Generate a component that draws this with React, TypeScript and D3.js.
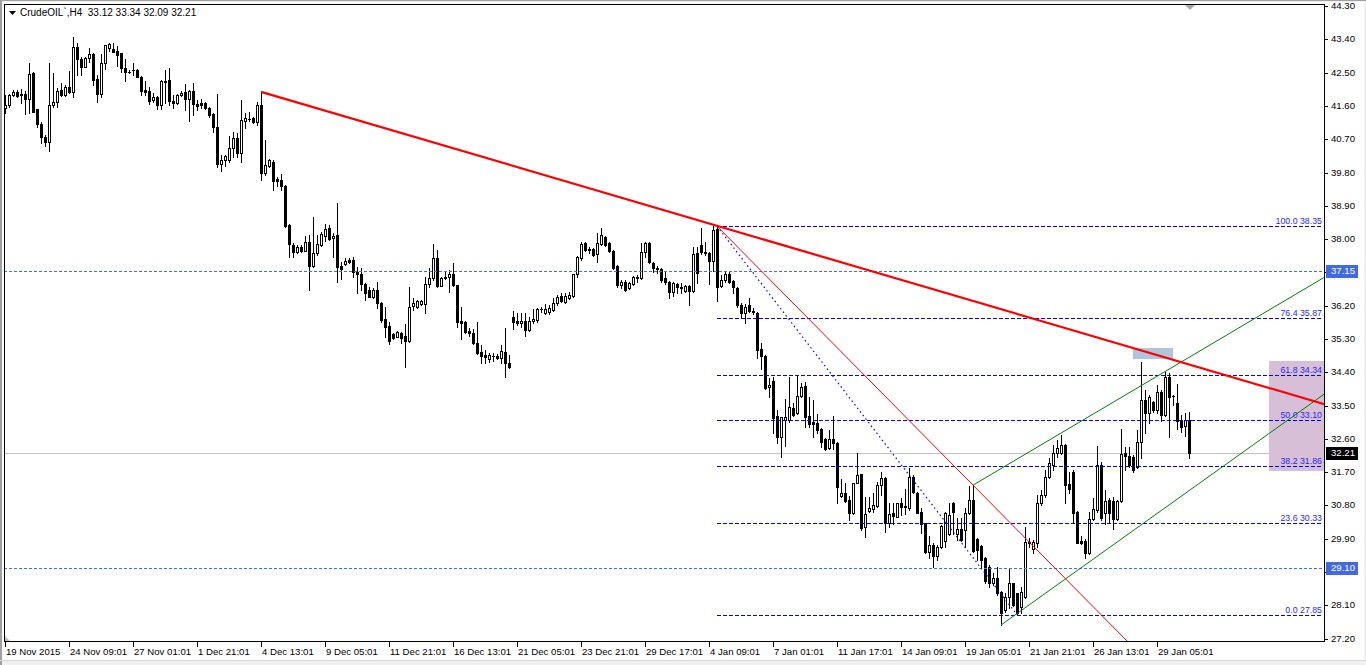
import React from "react";
import * as d3 from "d3";

// [open, high, low, close] per H4 bar
const candles: number[][] = [
  [41.54,41.89,41.40,41.62],[41.62,41.92,41.57,41.89],[41.89,42.03,41.87,41.98],[41.98,42.03,41.84,41.87],
  [41.92,42.06,41.68,41.89],[41.92,42.00,41.38,41.78],[41.78,42.77,41.42,42.46],[42.49,42.52,41.43,41.44],
  [41.52,41.52,41.03,41.11],[41.11,41.17,40.60,40.76],[40.77,40.81,40.52,40.62],[40.62,42.77,40.39,41.62],
  [41.62,42.49,41.58,41.71],[41.71,42.08,41.58,42.00],[42.03,42.22,41.87,41.89],[41.89,42.16,41.87,42.12],
  [42.12,42.55,41.96,41.98],[41.98,43.47,41.85,43.18],[43.20,43.31,42.43,42.86],[42.87,42.92,42.43,42.65],
  [42.66,42.92,42.64,42.89],[42.89,43.16,42.79,43.00],[43.00,43.02,42.16,42.30],[42.32,42.43,41.71,41.92],
  [41.92,43.00,41.85,42.75],[42.75,43.25,42.59,43.25],[43.17,43.30,43.09,43.27],[43.13,43.29,43.05,43.06],
  [43.08,43.22,42.68,42.98],[43.02,43.02,42.52,42.62],[42.62,42.86,42.28,42.52],[42.52,42.57,42.50,42.51],
  [42.57,42.75,42.43,42.58],[42.57,42.59,42.37,42.39],[42.39,42.41,41.89,42.00],[42.03,42.28,41.89,41.98],
  [42.00,42.12,41.65,41.74],[41.76,41.94,41.71,41.83],[41.85,41.87,41.51,41.62],[41.62,42.30,41.51,42.28],
  [42.25,42.57,41.67,42.28],[42.30,42.62,41.62,41.74],[41.74,41.89,41.54,41.69],[41.67,41.92,41.66,41.89],
  [41.89,42.01,41.87,41.96],[41.98,42.19,41.49,41.78],[41.78,42.03,41.20,42.00],[42.00,42.21,41.35,41.65],
  [41.65,41.76,41.49,41.60],[41.67,41.79,41.54,41.63],[41.69,41.71,41.51,41.54],[41.54,41.56,41.31,41.35],
  [41.38,41.40,40.90,41.04],[41.02,41.92,39.96,40.03],[40.03,40.27,39.85,40.14],[40.14,40.27,39.97,40.25],
  [40.14,40.79,40.09,40.45],[40.45,40.90,40.21,40.72],[40.72,40.86,40.23,40.32],[40.32,41.76,40.09,41.22],
  [41.20,41.40,41.00,41.26],[41.25,41.43,41.20,41.24],[41.26,41.31,41.15,41.17],[41.17,41.71,41.08,41.62],
  [41.62,41.98,39.60,39.78],[39.78,40.68,39.73,40.00],[39.98,40.16,39.96,40.14],[40.09,40.14,39.33,39.58],
  [39.62,39.69,39.43,39.58],[39.60,39.75,39.33,39.43],[39.43,39.45,38.33,38.35],[38.38,38.40,37.51,37.86],
  [37.84,37.90,37.51,37.66],[37.66,37.84,37.63,37.78],[37.79,37.84,37.65,37.69],[37.69,38.09,37.68,37.91],
  [37.91,38.11,36.62,37.28],[37.28,38.60,37.25,37.62],[37.62,38.11,37.57,37.86],[37.84,38.20,37.81,38.14],
  [38.09,38.41,37.96,38.27],[38.29,38.38,37.98,38.00],[38.02,38.16,37.52,38.08],[38.11,38.97,36.85,37.25],
  [37.27,37.39,36.93,37.18],[37.32,37.50,37.30,37.41],[37.44,37.48,37.36,37.39],[37.44,37.52,36.98,37.10],
  [37.12,37.24,36.53,37.05],[37.06,37.21,36.62,36.78],[36.79,36.81,36.35,36.55],[36.62,36.70,36.43,36.44],
  [36.43,36.67,36.40,36.62],[36.62,36.85,36.13,36.26],[36.28,36.29,35.77,35.81],[35.83,36.17,35.36,35.63],
  [35.65,35.77,35.17,35.25],[35.44,35.46,35.29,35.32],[35.36,35.52,35.35,35.50],[35.47,35.50,35.18,35.32],
  [35.38,35.70,34.54,35.25],[35.25,36.70,35.23,36.17],[36.19,36.40,36.08,36.28],[36.17,36.35,36.13,36.33],
  [36.24,36.35,36.22,36.33],[36.24,36.98,36.01,36.80],[36.80,37.21,36.71,36.94],[36.94,37.87,36.89,37.48],
  [37.48,37.71,36.70,36.73],[36.73,36.98,36.72,36.94],[36.97,37.15,36.91,36.94],[36.97,37.17,36.56,37.06],
  [37.06,37.35,36.73,36.76],[36.76,36.77,35.62,35.77],[35.79,36.17,35.29,35.72],[35.77,35.79,35.46,35.50],
  [35.52,35.59,35.38,35.46],[35.47,35.56,35.17,35.20],[35.20,35.77,34.89,34.93],[34.96,35.14,34.64,34.84],
  [34.87,35.00,34.66,34.82],[34.75,34.93,34.69,34.86],[34.84,34.93,34.71,34.83],[34.84,34.89,34.75,34.80],
  [34.78,35.14,34.66,34.98],[34.96,35.59,34.28,34.66],[34.64,34.87,34.51,34.55],[35.90,36.06,35.56,35.77],
  [35.79,36.00,35.68,35.72],[35.74,36.01,35.63,35.79],[35.79,36.00,35.38,35.54],[35.54,35.90,35.52,35.79],
  [35.79,36.10,35.74,35.83],[35.81,36.13,35.77,36.10],[36.10,36.17,36.04,36.11],[36.01,36.24,35.97,36.10],
  [36.03,36.22,35.98,36.14],[36.08,36.40,36.07,36.26],[36.26,36.49,36.22,36.43],[36.46,36.53,36.31,36.33],
  [36.31,36.53,36.28,36.46],[36.40,36.58,36.37,36.49],[36.46,37.07,36.44,37.06],[37.06,37.54,36.98,37.51],
  [37.48,37.93,37.44,37.87],[37.89,37.91,37.69,37.71],[37.72,37.78,37.63,37.71],[37.73,37.75,37.54,37.57],
  [37.59,38.16,37.39,37.89],[37.87,38.29,37.84,38.11],[38.06,38.08,37.81,37.84],[37.89,37.91,37.66,37.69],
  [37.69,37.71,37.18,37.21],[37.27,37.30,36.71,36.76],[36.76,36.89,36.67,36.85],[36.85,36.89,36.61,36.62],
  [36.67,36.85,36.64,36.82],[36.79,36.99,36.76,36.97],[36.94,37.03,36.85,36.98],[36.94,37.90,36.91,37.66],
  [37.66,37.93,37.52,37.89],[37.89,37.93,37.36,37.39],[37.35,37.39,37.12,37.21],[37.22,37.27,37.09,37.19],
  [37.18,37.21,36.85,36.89],[36.94,37.12,36.79,36.85],[36.85,36.87,36.40,36.58],[36.58,36.85,36.46,36.82],
  [36.79,36.82,36.55,36.71],[36.70,36.82,36.55,36.69],[36.61,36.76,36.58,36.73],[36.73,36.76,36.22,36.61],
  [36.61,37.78,36.58,37.60],[37.62,37.78,36.82,37.09],[37.84,38.29,37.60,37.66],[37.62,37.93,37.56,37.66],
  [37.63,37.66,36.80,37.42],[37.42,38.35,37.15,38.25],[38.27,38.35,36.33,36.71],[36.73,37.03,36.70,36.89],
  [36.89,37.12,36.85,37.06],[37.06,37.12,36.81,36.85],[36.87,36.89,36.55,36.70],[36.67,36.70,36.16,36.22],
  [36.22,36.27,35.90,36.01],[36.01,36.24,35.74,36.17],[36.22,36.40,36.04,36.06],[36.06,36.13,35.98,36.02],
  [36.01,36.04,34.80,35.00],[35.02,35.18,34.48,34.85],[34.84,34.87,33.94,33.97],[33.99,34.24,33.74,34.06],
  [34.17,34.26,32.75,33.17],[33.22,33.38,32.48,32.66],[32.66,33.20,32.10,33.18],[33.11,33.67,32.41,33.18],
  [33.11,34.28,33.06,33.45],[33.43,33.56,33.22,33.25],[33.29,34.30,33.27,33.76],[33.76,34.10,33.74,33.99],
  [34.03,34.15,32.93,33.18],[33.22,33.74,32.93,33.00],[33.06,33.65,32.66,33.00],[33.04,33.27,32.77,32.84],
  [32.86,32.89,32.37,32.52],[32.59,32.62,32.30,32.32],[32.35,32.84,32.32,32.59],[32.59,33.22,32.32,32.48],
  [32.50,32.51,30.88,31.31],[31.06,31.51,31.02,31.15],[31.13,31.40,30.90,30.93],[30.95,31.06,30.41,30.61],
  [30.59,31.42,30.57,31.40],[31.42,32.21,31.40,31.62],[31.65,31.66,30.14,30.18],[30.21,31.04,29.94,30.57],
  [30.66,31.04,30.63,30.72],[30.70,31.13,30.63,30.81],[30.79,31.44,30.75,31.35],[31.35,31.71,31.08,31.53],
  [31.53,31.56,30.09,30.33],[30.33,30.86,30.21,30.57],[30.61,30.86,30.30,30.52],[30.50,30.88,30.48,30.86],
  [30.88,31.00,30.54,30.77],[30.77,31.24,30.57,30.78],[30.73,31.80,30.68,31.57],[31.57,31.62,31.13,31.17],
  [31.15,31.16,30.59,30.61],[30.63,30.72,30.06,30.30],[30.32,30.33,29.52,29.55],[29.55,29.97,29.37,29.73],
  [29.73,29.78,29.13,29.43],[29.43,29.73,29.33,29.67],[29.67,30.27,29.64,30.24],[29.85,30.63,29.69,30.59],
  [30.03,30.88,30.00,30.54],[30.88,30.90,30.03,30.63],[30.03,30.45,29.87,30.16],[30.16,30.45,29.85,29.87],
  [30.14,30.72,29.67,30.59],[30.61,31.33,30.57,30.95],[30.95,31.35,29.55,29.58],[29.89,29.91,29.33,29.60],
  [29.70,29.73,29.13,29.33],[29.37,29.41,28.70,28.77],[29.15,29.19,28.61,28.70],[28.70,28.98,28.65,28.83],
  [28.83,29.13,28.38,28.43],[28.47,28.48,27.57,27.89],[27.98,28.43,27.93,28.34],[28.34,29.10,28.02,28.71],
  [28.70,28.71,28.08,28.11],[28.43,28.44,27.87,27.89],[28.06,28.61,27.90,28.47],[28.34,30.23,28.29,29.82],
  [29.78,29.91,29.69,29.82],[29.62,29.87,29.52,29.82],[29.78,31.08,29.69,30.86],[30.86,31.22,30.81,31.08],
  [31.08,31.76,31.04,31.58],[31.58,32.08,31.54,31.96],[31.89,32.43,31.76,32.21],[32.21,32.57,32.12,32.35],
  [32.21,32.70,32.19,32.43],[32.43,32.46,30.86,31.35],[31.38,31.71,31.13,31.24],[31.71,31.76,30.33,30.61],
  [30.63,30.64,29.78,29.79],[29.85,29.97,29.77,29.79],[29.85,29.89,29.37,29.51],[29.51,30.63,29.49,30.43],
  [30.43,31.00,30.41,30.70],[30.68,32.41,30.62,31.89],[31.89,31.97,30.41,30.46],[30.59,31.22,30.30,30.93],
  [30.95,31.00,30.36,30.61],[30.93,31.04,30.16,30.43],[30.43,30.95,30.41,30.93],[30.93,32.86,30.90,32.19],
  [32.21,32.37,31.76,32.14],[32.14,32.39,31.83,31.89],[32.12,32.16,31.71,31.76],[31.83,32.84,31.80,32.52],
  [32.52,34.69,32.08,33.65],[33.65,33.92,32.77,33.31],[33.31,33.79,33.02,33.74],[33.60,33.63,33.34,33.38],
  [33.38,34.06,33.31,33.88],[33.88,33.92,33.09,33.25],[33.25,34.42,33.22,34.28],[34.28,34.37,32.64,33.74],
  [33.76,33.79,33.52,33.75],[33.58,34.08,32.88,33.09],[33.09,33.25,32.80,32.93],[32.95,33.31,32.68,33.11],
  [33.12,33.34,32.09,32.21],
];

const priceTicks = [44.30,43.40,42.50,41.60,40.70,39.80,38.90,38.00,37.10,36.20,35.30,34.40,33.50,32.60,31.70,30.80,29.90,29.00,28.10,27.20];
const timeTickIndex = [0,16,32,48,64,80,96,112,128,144,160,176,192,208,224,240,256,272,288];
const timeTickLabels = ["19 Nov 2015","24 Nov 09:01","27 Nov 01:01","1 Dec 21:01","4 Dec 13:01","9 Dec 05:01","11 Dec 21:01","16 Dec 13:01","21 Dec 05:01","23 Dec 21:01","29 Dec 17:01","4 Jan 09:01","7 Jan 01:01","11 Jan 17:01","14 Jan 09:01","19 Jan 05:01","21 Jan 21:01","26 Jan 13:01","29 Jan 05:01"];

const fibRatios = [100.0, 76.4, 61.8, 50.0, 38.2, 23.6, 0.0];
const fibPrices = [38.35, 35.87, 34.34, 33.10, 31.86, 30.33, 27.85];
const fibStart = { i: 178, p: 38.35 };
const fibEnd = { i: 253, p: 27.85 };

const levelLines = [37.15, 29.10];
const bidPrice = 32.21;
const titleText = "CrudeOIL`,H4  33.12 33.34 32.09 32.21";

// trend lines: [i1, p1, i2, p2]
const redMain = [64, 41.98, 178, 38.36];
const redThin = [178, 38.35, 242, 31.35];
const greenUpper = [242, 31.35, 290, 34.42];
const greenLower = [249, 27.57, 296, 31.20];
// rectangles: [i1, p1, i2, p2]
const blueBox = [282, 35.07, 292, 34.75];
const purpleBox = [316, 34.71, 340, 31.73];

const W = 1366, H = 665;
const PL = 4, PR = 1324, PT = 4, PB = 642;
const FONT = "'Liberation Sans', Arial, sans-serif";

export default function App() {
  const x = d3.scaleLinear().domain([0, 329.75]).range([5, 1324]);
  const y = d3.scaleLinear().domain([27.2, 44.3]).range([638.7, 6]);
  const ry = (p: number) => Math.round(y(p));

  const ray = (a: number[], toIndex = 345) => {
    const [i1, p1, i2, p2] = a;
    const slope = (p2 - p1) / (i2 - i1);
    const pEnd = p1 + slope * (toIndex - i1);
    return d3.line()([[x(i1), y(p1)], [x(toIndex), y(pEnd)]]) || "";
  };

  const fibX1 = Math.round(x(fibStart.i));
  const hiddenTicks = priceTicks.map((p) => levelLines.some((l) => Math.abs(ry(l) - ry(p)) < 10));

  return (
    <svg width={W} height={H} style={{ position: "absolute", left: 0, top: 0, background: "#fff" }}
      fontFamily={FONT}>
      <defs>
        <clipPath id="plot">
          <rect x={PL} y={PT} width={PR - PL} height={PB - PT} />
        </clipPath>
      </defs>
      {/* window frame */}
      <rect x={0} y={0} width={W} height={H} fill="#f0f0f0" />
      <rect x={2} y={2} width={W - 4} height={658} fill="#ffffff" />
      <rect x={0} y={0} width={2} height={H} fill="#a0a0a0" />
      <rect x={0} y={0} width={W} height={1} fill="#a0a0a0" />
      <rect x={0} y={660} width={W} height={1} fill="#d8d8d8" />

      <g clipPath="url(#plot)">
        {/* bid line */}
        <line x1={PL} x2={PR} y1={ry(bidPrice) + 0.5} y2={ry(bidPrice) + 0.5} stroke="#c0c0c0" />
        {/* rectangles (background objects) */}
        <rect x={x(purpleBox[0])} y={ry(purpleBox[1])} width={x(purpleBox[2]) - x(purpleBox[0])}
          height={ry(purpleBox[3]) - ry(purpleBox[1])} fill="#d8bfd8" />
        <rect x={x(blueBox[0])} y={ry(blueBox[1])} width={x(blueBox[2]) - x(blueBox[0])}
          height={ry(blueBox[3]) - ry(blueBox[1])} fill="#b0c4de" />

        {/* candles */}
        {candles.map(([o, h, l, c], i) => {
          const cx = Math.round(x(i));
          const yh = ry(h), yl = ry(l), yo = ry(o), yc = ry(c);
          const top = Math.min(yo, yc), bot = Math.max(yo, yc);
          const bull = c > o;
          return (
            <g key={i} shapeRendering="crispEdges">
              <rect x={cx} y={yh} width={1} height={Math.max(1, yl - yh + 1)} fill="#000" />
              <rect x={cx - 1} y={top} width={3} height={Math.max(1, bot - top + 1)} fill="#000" />
              {bull && bot - top >= 2 && (
                <rect x={cx} y={top + 1} width={1} height={bot - top - 1} fill="#fff" />
              )}
            </g>
          );
        })}

        {/* horizontal levels */}
        {levelLines.map((p, k) => (
          <line key={k} x1={PL} x2={PR} y1={ry(p) + 0.5} y2={ry(p) + 0.5} stroke="#3f6ff0"
            strokeDasharray="3,2" />
        ))}

        {/* fibonacci */}
        {fibPrices.map((p, k) => (
          <line key={k} x1={fibX1} x2={PR - 2} y1={ry(p) + 0.5} y2={ry(p) + 0.5} stroke="#0000ff"
            strokeDasharray="4,2" />
        ))}
        <line x1={x(fibStart.i)} y1={y(fibStart.p)} x2={x(fibEnd.i)} y2={y(fibEnd.p)} stroke="#0000ff"
          strokeWidth={1.2} strokeDasharray="1.5,3" />
        {fibPrices.map((p, k) => (
          <text key={k} x={PR - 2} y={ry(p) - 2} textAnchor="end" fontSize={8.8} fill="#2a2aee">
            {`${fibRatios[k].toFixed(1)} ${p.toFixed(2)}`}
          </text>
        ))}

        {/* trend lines */}
        <path d={ray(redThin)} stroke="#ff0000" strokeWidth={1} fill="none" />
        <path d={ray(greenUpper)} stroke="#008000" strokeWidth={1} fill="none" />
        <path d={ray(greenLower)} stroke="#008000" strokeWidth={1} fill="none" />
        <path d={ray(redMain)} stroke="#ff0000" strokeWidth={2.2} fill="none" />
      </g>

      {/* shift marker */}
      <polygon points="1184,4 1196,4 1190,10" fill="#a8a8a8" />
      {/* corner marker */}
      <polygon points={`${PL + 1},${PB - 6} ${PL + 1},${PB} ${PL + 7},${PB}`} fill="#c0c0c0" />

      {/* plot frame */}
      <rect x={PL + 0.5} y={PT + 0.5} width={PR - PL} height={PB - PT - 1} fill="none" stroke="#000"
        shapeRendering="crispEdges" />

      {/* price axis */}
      {priceTicks.map((p, k) => (
        <g key={k}>
          <line x1={PR} x2={PR + 4} y1={ry(p) + 0.5} y2={ry(p) + 0.5} stroke="#000" shapeRendering="crispEdges" />
          {!hiddenTicks[k] && (
            <text x={PR + 7} y={ry(p)} dy="0.35em" fontSize={9.6} fill="#000">{p.toFixed(2)}</text>
          )}
        </g>
      ))}
      {levelLines.map((p, k) => (
        <g key={k}>
          <rect x={PR + 2} y={ry(p) - 6} width={32} height={13} fill="#4169e1" />
          <text x={PR + 7} y={ry(p)} dy="0.35em" fontSize={9.6} fill="#fff">{p.toFixed(2)}</text>
        </g>
      ))}
      <rect x={PR + 2} y={ry(bidPrice) - 6} width={32} height={13} fill="#000" />
      <text x={PR + 7} y={ry(bidPrice)} dy="0.35em" fontSize={9.6} fill="#fff">{bidPrice.toFixed(2)}</text>

      {/* time axis */}
      {timeTickIndex.map((ti, k) => {
        const tx = Math.round(x(ti));
        return (
          <g key={k}>
            <line x1={tx + 0.5} x2={tx + 0.5} y1={PB} y2={PB + 5} stroke="#000" shapeRendering="crispEdges" />
            <text x={tx + 1} y={655} fontSize={9.6} fill="#000">{timeTickLabels[k]}</text>
          </g>
        );
      })}

      {/* title */}
      <polygon points="9,11 16,11 12.5,15" fill="#000" />
      <text x={20} y={16} fontSize={10} fill="#000" style={{ whiteSpace: "pre" }}>{titleText}</text>
    </svg>
  );
}
